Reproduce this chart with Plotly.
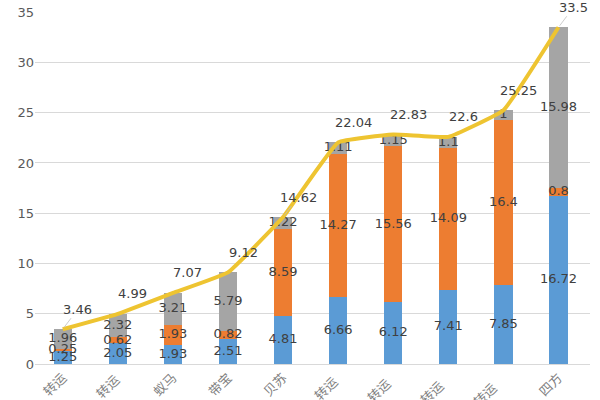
import plotly.graph_objects as go

categories = ["转运", "转运 ", "蚁马", "带宝", "贝苏", "转运  ", "转运   ", "转运    ", "转运     ", "四方"]
blue_vals = [1.25, 2.05, 1.93, 2.51, 4.81, 6.66, 6.12, 7.41, 7.85, 16.72]
orange_vals = [0.25, 0.62, 1.93, 0.82, 8.59, 14.27, 15.56, 14.09, 16.4, 0.8]
gray_vals = [1.96, 2.32, 3.21, 5.79, 1.22, 1.11, 1.15, 1.1, 1, 15.98]
totals = [3.46, 4.99, 7.07, 9.12, 14.62, 22.04, 22.83, 22.6, 25.25, 33.5]
y_ticks = [0, 5, 10, 15, 20, 25, 30, 35]
leader_idx = [0, 4, 9]  # total labels drawn with a thin leader line

BLUE = "#5B9BD5"
ORANGE = "#ED7D31"
GRAY = "#A5A5A5"
GOLD = "#EEC431"
TXT = "#404040"
FONT = "DejaVu Sans"

fig = go.Figure()
for vals, col in [(blue_vals, BLUE), (orange_vals, ORANGE), (gray_vals, GRAY)]:
    fig.add_trace(go.Bar(x=categories, y=vals, marker=dict(color=col, line=dict(width=0)),
                         hoverinfo="skip"))

# segment labels centred in each segment
bases = [0.0] * len(categories)
for vals in [blue_vals, orange_vals, gray_vals]:
    centers = [b + v / 2 for b, v in zip(bases, vals)]
    fig.add_trace(go.Scatter(x=categories, y=centers, mode="text",
                             text=[f"{v:g}" for v in vals],
                             textfont=dict(color=TXT, size=13, family=FONT),
                             textposition="middle center", hoverinfo="skip"))
    bases = [b + v for b, v in zip(bases, vals)]

fig.add_trace(go.Scatter(x=categories, y=totals, mode="lines",
                         line=dict(color=GOLD, width=4, shape="spline", smoothing=0.3),
                         hoverinfo="skip"))

for i, (c, t) in enumerate(zip(categories, totals)):
    if i in leader_idx:
        fig.add_annotation(x=c, y=t, text=f"{t:g}", showarrow=True, arrowhead=0,
                           arrowwidth=0.8, arrowcolor="#BFBFBF", ax=15, ay=-20,
                           standoff=2,
                           font=dict(color=TXT, size=13, family=FONT))
    else:
        fig.add_annotation(x=c, y=t, text=f"{t:g}", showarrow=False,
                           xanchor="center", yanchor="middle", xshift=15, yshift=20,
                           font=dict(color=TXT, size=13, family=FONT))

fig.update_layout(
    width=600, height=400,
    barmode="stack", bargap=0.67,
    showlegend=False,
    plot_bgcolor="white", paper_bgcolor="white",
    margin=dict(l=35, r=10, t=12, b=36),
    font=dict(family=FONT, color="#595959", size=13),
)
fig.update_xaxes(tickangle=-45, showgrid=False, showline=True, linecolor="#D9D9D9",
                 linewidth=1, ticks="", automargin=False,
                 tickfont=dict(size=13, color="#7F7F7F", family="Noto Sans CJK SC"))
fig.update_yaxes(range=[0, 35.02], tickvals=y_ticks, showgrid=True, gridcolor="#D9D9D9",
                 gridwidth=1, zeroline=False, showline=False, ticks="", automargin=False,
                 ticklabeloverflow="allow",
                 tickfont=dict(size=13, color="#595959"))

fig.write_html("out.html", config={"displayModeBar": False},
               post_script="document.body.style.margin='0';")
